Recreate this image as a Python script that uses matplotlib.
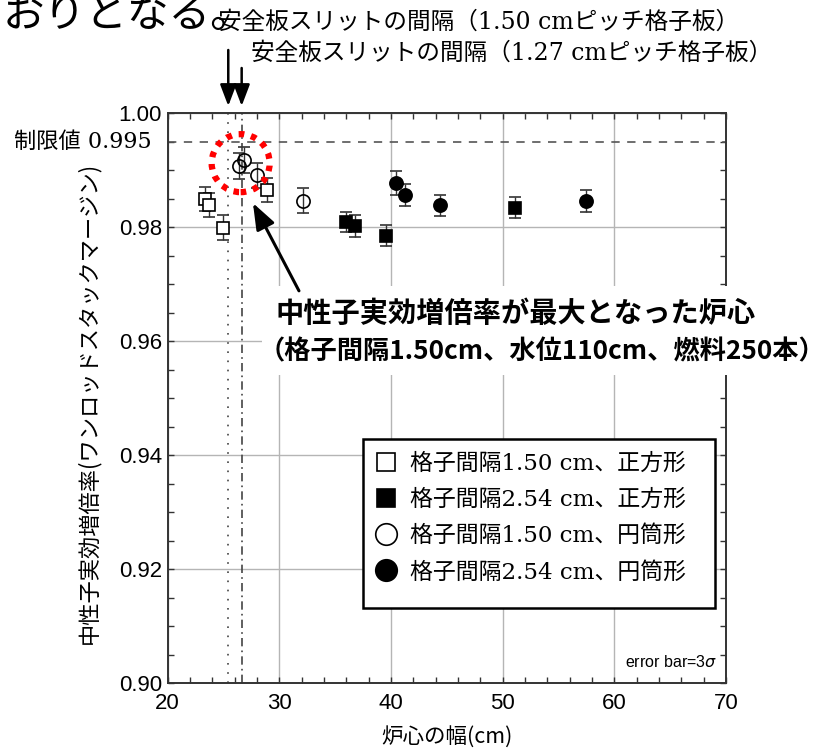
import matplotlib
matplotlib.use('Agg')
import matplotlib.pyplot as plt
import matplotlib.transforms as mtransforms
from matplotlib.patches import Ellipse, Rectangle
from matplotlib.lines import Line2D
from matplotlib.ticker import MultipleLocator

plt.rcParams['font.family'] = ['Liberation Sans', 'Noto Sans CJK JP']
plt.rcParams['axes.unicode_minus'] = False
SERIF = ['DejaVu Serif', 'Noto Sans CJK JP']
GOTHIC = ['Noto Sans CJK JP', 'DejaVu Sans']

# ---------------- data ----------------
sq150_x = [23.37, 23.73, 24.93, 28.90]
sq150_y = [0.9849, 0.9839, 0.9799, 0.9865]
sq150_err = [0.0021, 0.0021, 0.0022, 0.0021]

sq254_x = [36.00, 36.80, 39.55, 51.13]
sq254_y = [0.9809, 0.9802, 0.9785, 0.9834]
sq254_err = [0.0018, 0.0019, 0.0019, 0.0019]

cy150_x = [26.39, 26.81, 28.00, 32.12]
cy150_y = [0.9907, 0.9918, 0.9891, 0.9846]
cy150_err = [0.0022, 0.0023, 0.0022, 0.0022]

cy254_x = [40.48, 41.22, 44.39, 57.43]
cy254_y = [0.9878, 0.9856, 0.9838, 0.9846]
cy254_err = [0.0021, 0.0019, 0.0019, 0.0019]

series_labels = ['格子間隔1.50 cm、正方形', '格子間隔2.54 cm、正方形',
                 '格子間隔1.50 cm、円筒形', '格子間隔2.54 cm、円筒形']

limit_value = 0.995
slit_150 = 25.44
slit_127 = 26.64
best_x, best_y = 26.55, 0.9912
arrow_tip = (27.65, 0.9842)
arrow_tail = (31.77, 0.9688)

# ---------------- figure ----------------
W, H = 825, 750
fig = plt.figure(figsize=(W / 100, H / 100), dpi=100)
L, R, T, B = 167.5, 726, 113, 683
ax = fig.add_axes([L / W, (H - B) / H, (R - L) / W, (B - T) / H])

ax.set_xlim(20, 70)
ax.set_ylim(0.90, 1.00)
ax.xaxis.set_major_locator(MultipleLocator(10))
ax.xaxis.set_minor_locator(MultipleLocator(2))
ax.yaxis.set_major_locator(MultipleLocator(0.02))
ax.yaxis.set_minor_locator(MultipleLocator(0.005))
ax.set_yticks([0.90, 0.92, 0.94, 0.96, 0.98, 1.00])
ax.set_yticklabels(['0.90', '0.92', '0.94', '0.96', '0.98', '1.00'])
ax.tick_params(which='both', direction='in', top=True, right=True,
               length=4, width=1.0, color='#333333', labelsize=16)
ax.tick_params(axis='x', pad=7)
ax.tick_params(axis='y', pad=4)
for s in ax.spines.values():
    s.set_linewidth(1.4)
    s.set_color('#333333')
ax.grid(True, which='major', color='#b5b5b5', lw=1.0)

# reference lines
ax.axhline(limit_value, color='#555555', lw=1.2, ls=(0, (5, 4.5)), zorder=2)
ax.axvline(slit_150, color='#444444', lw=1.2, ls=(0, (1, 4.5)), zorder=2)
ax.axvline(slit_127, color='#444444', lw=1.2, ls=(0, (5, 2.5, 1, 2.5)), zorder=2)

eb = dict(ecolor='#333333', elinewidth=1.0, capsize=4, capthick=1.0,
          mec='black', mew=1.2, ls='none', zorder=5)
ax.errorbar(sq150_x, sq150_y, yerr=sq150_err, fmt='s', ms=8, mfc='white', **eb)
ax.errorbar(sq254_x, sq254_y, yerr=sq254_err, fmt='s', ms=8, mfc='black', **eb)
ax.errorbar(cy150_x, cy150_y, yerr=cy150_err, fmt='o', ms=9.5, mfc='none', **eb)
ax.errorbar(cy254_x, cy254_y, yerr=cy254_err, fmt='o', ms=9.5, mfc='black', **eb)

# red highlight circle
ax.add_patch(Ellipse((best_x, best_y), width=58 / 11.17, height=58 / 5700,
                     fill=False, edgecolor='red', lw=4.5, ls=(0, (0.9, 1.1)),
                     zorder=6))

# limit label
blend = mtransforms.blended_transform_factory(ax.transAxes, ax.transData)
ax.text(-0.029, limit_value, '制限値 0.995', transform=blend, ha='right',
        va='center', fontsize=16, family=SERIF)

# error bar note
ax.text(0.984, 0.037, 'error bar=3$\\sigma$', transform=ax.transAxes,
        ha='right', va='center', fontsize=11.5)

# legend with frame
ax.add_patch(Rectangle((0.35, 0.1316), 0.63, 0.2964, transform=ax.transAxes,
                       facecolor='white', edgecolor='black', lw=1.8, zorder=7))
handles = [
    Line2D([], [], marker='s', ls='none', ms=13, mfc='white', mec='black', mew=1.2),
    Line2D([], [], marker='s', ls='none', ms=13, mfc='black', mec='black', mew=1.2),
    Line2D([], [], marker='o', ls='none', ms=15.5, mfc='white', mec='black', mew=1.2),
    Line2D([], [], marker='o', ls='none', ms=15.5, mfc='black', mec='black', mew=1.2),
]
leg = ax.legend(handles, series_labels, loc='upper left',
                bbox_to_anchor=(0.346, 0.428), frameon=False, borderaxespad=0,
                borderpad=0.6, handlelength=1.0, handletextpad=0.55,
                labelspacing=0.62, prop={'family': SERIF, 'size': 16.5})
leg.set_zorder(8)

# white box behind the bold annotation
ax.add_patch(Rectangle((262 / W, (H - 375) / H), (W - 262) / W, 89 / H,
                       transform=fig.transFigure, facecolor='white',
                       edgecolor='none', clip_on=False, zorder=3))

# big arrow
ax.annotate('', xy=arrow_tip, xytext=arrow_tail,
            arrowprops=dict(arrowstyle='-|>,head_length=0.8,head_width=0.3',
                            color='black', lw=2.2, mutation_scale=20,
                            shrinkA=0, shrinkB=0), zorder=9)

fig.text(276 / W, 1 - 314 / H, '中性子実効増倍率が最大となった炉心',
         fontsize=20.3, fontweight='bold', family=GOTHIC, ha='left', va='center')
fig.text(259 / W, 1 - 352 / H, '（格子間隔1.50cm、水位110cm、燃料250本）',
         fontsize=18.9, fontweight='bold', family=GOTHIC, ha='left', va='center')

# slit arrows above the plot
for xv, ytail in [(slit_150, (B - 50) / (B - T)), (slit_127, (B - 68) / (B - T))]:
    ax.annotate('', xy=(xv, (B - 106) / (B - T)), xycoords=('data', 'axes fraction'),
                xytext=(xv, ytail),
                arrowprops=dict(arrowstyle='-|>,head_length=0.87,head_width=0.33',
                                color='black', lw=1.8, mutation_scale=15,
                                shrinkA=0, shrinkB=0),
                annotation_clip=False)

fig.text(218 / W, 1 - 22 / H, '安全板スリットの間隔（1.50 cmピッチ格子板）',
         fontsize=17, family=SERIF, ha='left', va='center')
fig.text(251 / W, 1 - 53 / H, '安全板スリットの間隔（1.27 cmピッチ格子板）',
         fontsize=17, family=SERIF, ha='left', va='center')

fig.text(3 / W, 1 - 27 / H, 'おりとなる。', fontsize=30, family=GOTHIC,
         ha='left', va='baseline')

# axis labels
ax.set_xlabel('炉心の幅(cm)', fontsize=15.5, family=GOTHIC, va='center')
ax.xaxis.set_label_coords(0.5, (B - 738) / (B - T))
ax.set_ylabel('中性子実効増倍率(ワンロッドスタックマージン)', fontsize=16,
              family=GOTHIC, va='center', ha='center')
ax.yaxis.set_label_coords((88 - L) / (R - L), (B - 403) / (B - T))

fig.savefig('out.png', dpi=100)
